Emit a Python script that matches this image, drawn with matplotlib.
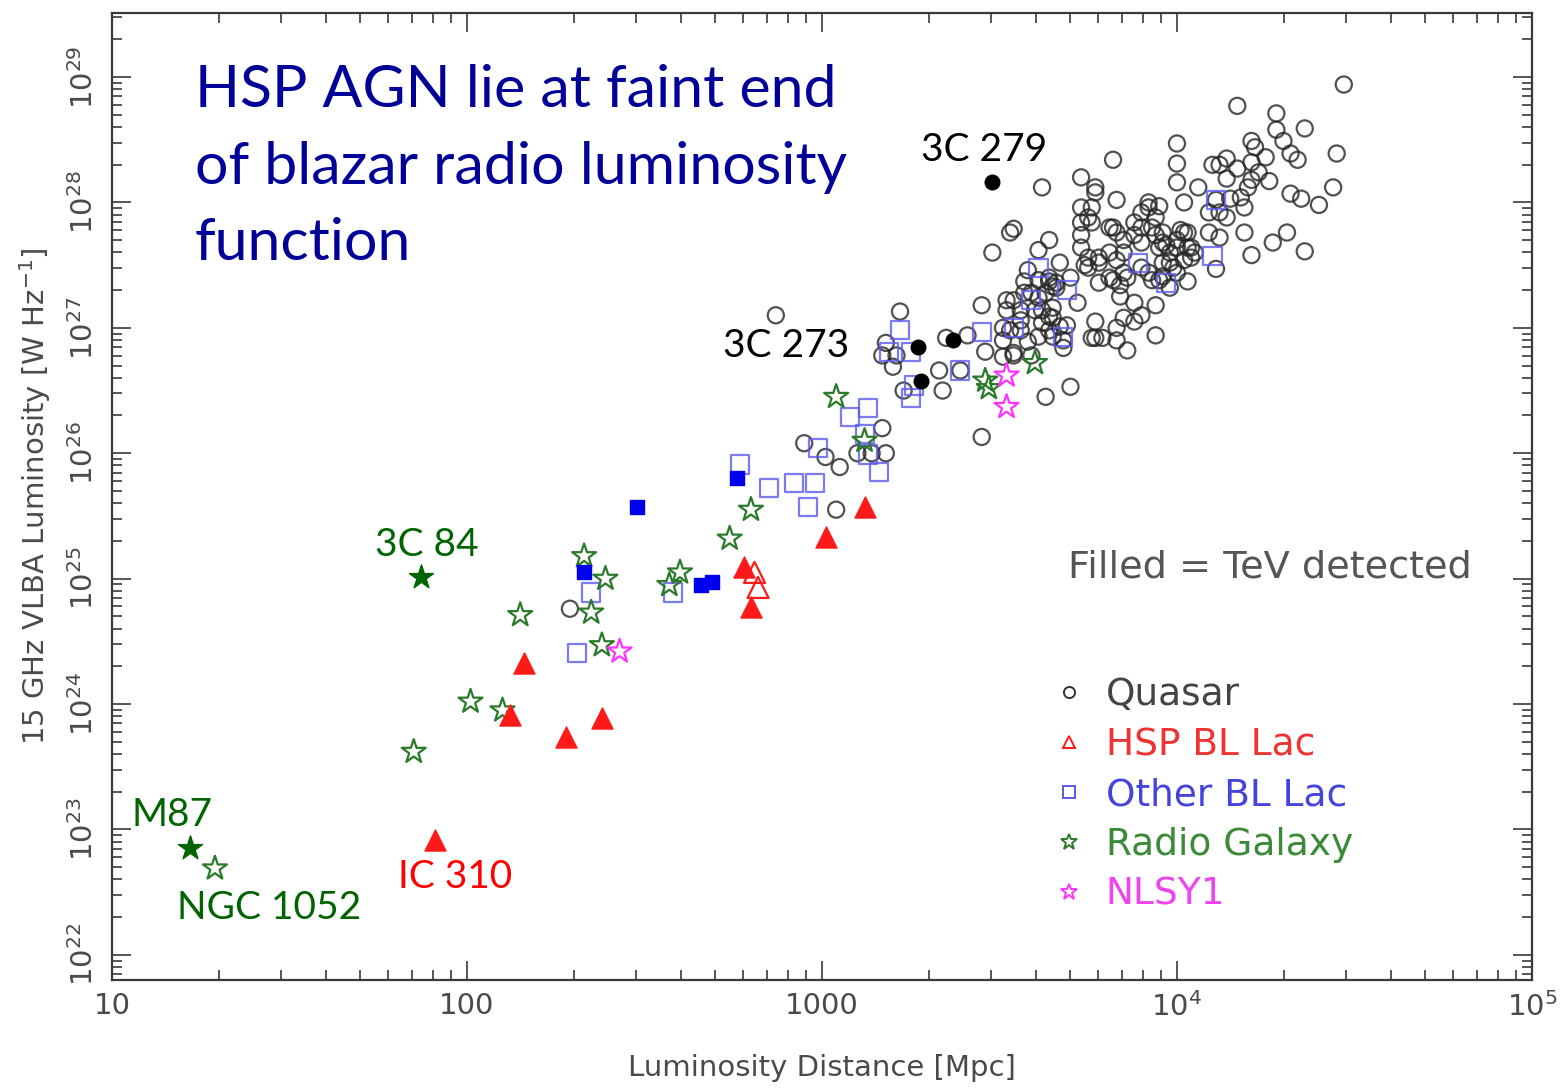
import matplotlib
matplotlib.use("Agg")
import matplotlib.pyplot as plt
import numpy as np
from matplotlib.lines import Line2D
from matplotlib.ticker import FixedLocator, FixedFormatter, LogLocator, NullFormatter

# ---- data: log10 luminosity distance [Mpc], log10 15 GHz luminosity [W/Hz] ----
quasar_logd = [4.47, 4.17, 4.28, 4.36, 4.28, 4.30, 4.21, 4.22, 4.00, 4.45, 4.32, 4.34, 3.82, 4.00,
               4.14, 4.10, 4.12, 4.25, 4.17, 4.21, 3.73, 4.00, 4.14, 4.26, 4.21, 4.20, 4.23, 3.62,
               3.77, 3.77, 4.06, 4.44, 4.32, 4.35, 4.40, 3.83, 4.02, 4.11, 4.15, 4.18, 4.19, 3.92,
               3.95, 3.76, 3.75, 4.09, 4.12, 4.14, 3.90, 3.94, 3.54, 3.73, 3.88, 3.82, 3.83, 3.93,
               3.94, 3.96, 4.01, 4.03, 4.09, 4.12, 4.19, 4.31, 4.27, 3.73, 3.73, 3.88, 3.90, 3.97,
               4.00, 4.04, 4.05, 3.81, 3.85, 4.21, 4.36, 4.11, 3.75, 3.74, 3.96, 3.99, 4.02, 3.58,
               3.70, 3.81, 3.86, 3.92, 3.93, 4.03, 3.65, 3.61, 3.64, 3.66, 3.72, 3.61, 3.52, 3.52,
               3.56, 3.56, 3.62, 3.65, 3.56, 3.51, 3.51, 3.64, 3.67, 3.69, 3.68, 3.58, 3.59, 3.54,
               3.76, 3.77, 3.79, 3.77, 3.83, 3.83, 3.86, 3.85, 3.88, 3.90, 3.84, 3.88, 3.94, 3.94,
               3.78, 3.78, 3.82, 3.84, 3.90, 3.95, 3.98, 3.53, 3.70, 3.63, 3.22, 3.18, 3.17, 3.21,
               3.20, 3.23, 3.33, 3.34, 3.35, 3.41, 3.45, 3.46, 3.51, 3.54, 3.54, 3.57, 3.53, 3.45,
               3.17, 3.10, 3.14, 3.18, 3.05, 2.87, 2.95, 3.01, 3.04, 2.29, 3.39, 3.48, 3.64, 3.66,
               3.63, 3.65, 3.60, 3.62, 3.61, 3.64, 3.65, 3.68, 3.59, 3.57,
               3.81, 3.85, 3.83, 3.85, 3.90, 3.92, 3.95, 3.98, 3.96, 4.00, 4.02, 4.03, 4.04, 3.98,
               4.00, 3.96, 3.73, 3.76, 3.78, 3.75, 3.61, 3.67, 3.64]
quasar_logL = [28.94, 28.77, 28.71, 28.59, 28.58, 28.49, 28.49, 28.44, 28.47, 28.39, 28.39, 28.34,
               28.34, 28.31, 28.35, 28.30, 28.30, 28.36, 28.27, 28.32, 28.20, 28.16, 28.19, 28.17,
               28.18, 28.12, 28.24, 28.12, 28.12, 28.08, 28.12, 28.12, 28.07, 28.03, 27.98, 28.02,
               28.00, 28.02, 28.03, 28.04, 27.96, 28.00, 27.97, 27.96, 27.88, 27.92, 27.92, 27.88,
               27.92, 27.88, 27.79, 27.84, 27.84, 27.80, 27.76, 27.80, 27.74, 27.68, 27.78, 27.76,
               27.76, 27.72, 27.76, 27.76, 27.68, 27.74, 27.64, 27.74, 27.68, 27.66, 27.64, 27.64,
               27.60, 27.60, 27.60, 27.58, 27.61, 27.47, 27.56, 27.50, 27.52, 27.48, 27.54, 27.46,
               27.40, 27.40, 27.40, 27.44, 27.38, 27.37, 27.33, 27.38, 27.37, 27.32, 27.20, 27.24,
               27.22, 27.14, 27.14, 27.06, 27.14, 27.08, 26.98, 27.00, 26.90, 26.98, 27.01, 27.02,
               26.84, 26.89, 26.78, 26.78, 26.92, 26.92, 26.92, 27.05, 26.90, 27.00, 26.82, 27.08,
               27.05, 27.10, 27.25, 27.20, 27.18, 26.94, 27.36, 27.52, 27.38, 27.34, 27.48, 27.38,
               27.32, 27.76, 26.53, 26.45, 27.13, 26.88, 26.78, 26.78, 26.69, 26.50, 26.66, 26.50,
               26.92, 26.94, 27.18, 26.81, 26.77, 26.80, 27.22, 27.28, 26.98, 26.13, 26.20, 26.00,
               26.00, 26.00, 25.89, 27.10, 26.08, 25.97, 25.55, 24.76, 26.66, 27.60, 27.40, 27.36,
               27.28, 27.16, 27.14, 27.04, 26.93, 27.09, 26.93, 26.90, 27.28, 27.37,
               27.80, 27.70, 27.54, 27.44, 27.80, 27.96, 27.64, 27.60, 27.76, 27.70, 27.76, 27.64,
               27.56, 27.52, 27.44, 27.41, 27.96, 27.84, 27.56, 27.48, 27.62, 27.52, 27.70]

quasar_tev_logd = [3.48, 3.27, 3.28, 3.37]          # 3C 279, 3C 273, ...
quasar_tev_logL = [28.16, 26.85, 26.58, 26.90]

hsp_logd = [2.81, 2.82]
hsp_logL = [25.05, 24.93]
hsp_tev_logd = [3.12, 3.01, 2.78, 2.80, 2.16, 2.12, 2.28, 2.38, 1.91]   # last: IC 310
hsp_tev_logL = [25.57, 25.33, 25.09, 24.77, 24.33, 23.91, 23.74, 23.89, 22.92]

bllac_logd = [4.11, 4.10, 3.89, 3.97, 3.61, 3.69, 3.59, 3.54, 3.68, 3.39, 3.45, 3.22, 3.19, 3.25,
              3.26, 3.25, 3.08, 3.13, 3.12, 3.13, 3.16, 2.99, 2.77, 2.85, 2.92, 2.98, 2.96, 2.35,
              2.58, 2.31]
bllac_logL = [28.02, 27.57, 27.52, 27.36, 27.48, 27.30, 27.22, 27.00, 26.93, 26.66, 26.97, 26.98,
              26.81, 26.81, 26.54, 26.44, 26.29, 26.36, 26.15, 25.99, 25.85, 26.04, 25.91, 25.72,
              25.76, 25.76, 25.57, 24.89, 24.89, 24.41]
bllac_tev_logd = [2.48, 2.76, 2.33, 2.66, 2.69]
bllac_tev_logL = [25.57, 25.80, 25.05, 24.95, 24.97]

rg_logd = [3.04, 3.12, 3.46, 3.47, 3.60, 2.80, 2.74, 2.33, 2.39, 2.35, 2.15, 2.38, 2.01, 2.10,
           1.85, 2.60, 2.57, 1.29]                   # last: NGC 1052
rg_logL = [26.45, 26.10, 26.58, 26.52, 26.72, 25.55, 25.32, 25.18, 25.00, 24.73, 24.71, 24.47,
           24.02, 23.95, 23.62, 25.05, 24.95, 22.69]
rg_tev_logd = [1.87, 1.22]                           # 3C 84, M87
rg_tev_logL = [25.01, 22.85]

nlsy1_logd = [3.52, 3.52, 2.43]
nlsy1_logL = [26.62, 26.37, 24.42]

# ---- named sources: label, position, text offset in px, colour ----
names = ["3C 279", "3C 273", "3C 84", "M87", "NGC 1052", "IC 310"]
name_logd = [3.48, 3.27, 1.87, 1.22, 1.29, 1.91]
name_logL = [28.16, 26.85, 25.01, 22.85, 22.69, 22.92]
name_dx = [-8, -132, 6, -18, 54, 20]
name_dy = [32, 1, 32, 33, -40, -37]
name_col = ["black", "black", "#006400", "#006400", "#006400", "#ff0000"]

C_Q = "#262626"
C_HSP = "#ff1a1a"
C_BL = "#5a5af0"
C_BLF = "#0000ee"
C_RG = "#2a7a2a"
C_RGF = "#006400"
C_NL = "#ff33ff"
AXC = "#3a3a3a"
TXT = "#4a4a4a"


def pw(a):
    return np.power(10.0, np.asarray(a))


fig = plt.figure(figsize=(15.64, 10.88), dpi=100)
ax = fig.add_axes([0.0716, 0.0993, 0.9079, 0.8887])
ax.set_xscale("log")
ax.set_yscale("log")
ax.set_xlim(10, 1e5)
ax.set_ylim(10 ** 21.8, 10 ** 29.51)

ax.scatter(pw(quasar_logd), pw(quasar_logL), s=135, marker="o", facecolors="none",
           edgecolors=C_Q, linewidths=1.6, alpha=0.8, zorder=3)
ax.scatter(pw(bllac_logd), pw(bllac_logL), s=170, marker="s", facecolors="none",
           edgecolors=C_BL, linewidths=1.6, alpha=0.8, zorder=4)
ax.scatter(pw(hsp_logd), pw(hsp_logL), s=230, marker="^", facecolors="none",
           edgecolors=C_HSP, linewidths=1.6, zorder=4)
ax.scatter(pw(rg_logd), pw(rg_logL), s=330, marker="*", facecolors="none",
           edgecolors=C_RG, linewidths=1.6, zorder=4)
ax.scatter(pw(nlsy1_logd), pw(nlsy1_logL), s=330, marker="*", facecolors="none",
           edgecolors=C_NL, linewidths=1.6, zorder=4)

ax.scatter(pw(quasar_tev_logd), pw(quasar_tev_logL), s=110, marker="o", color="black", zorder=5)
ax.scatter(pw(bllac_tev_logd), pw(bllac_tev_logL), s=110, marker="s", color=C_BLF, zorder=5)
ax.scatter(pw(hsp_tev_logd), pw(hsp_tev_logL), s=230, marker="^", color=C_HSP, zorder=5)
ax.scatter(pw(rg_tev_logd), pw(rg_tev_logL), s=330, marker="*", color=C_RGF, zorder=5)

# ---- axes styling ----
for sp in ax.spines.values():
    sp.set_linewidth(1.6)
    sp.set_color(AXC)
ax.tick_params(which="both", direction="in", top=True, right=True, color=AXC, width=1.2)
ax.tick_params(which="major", length=14, pad=9, labelsize=21, labelcolor=TXT)
ax.tick_params(which="minor", length=7)

ax.xaxis.set_major_locator(FixedLocator([10, 100, 1000, 1e4, 1e5]))
ax.xaxis.set_major_formatter(FixedFormatter(["10", "100", "1000", r"$10^4$", r"$10^5$"]))
ax.xaxis.set_minor_locator(LogLocator(base=10, subs=np.arange(2, 10), numticks=20))
ax.xaxis.set_minor_formatter(NullFormatter())

yt = [1e22, 1e23, 1e24, 1e25, 1e26, 1e27, 1e28, 1e29]
ax.yaxis.set_major_locator(FixedLocator(yt))
ax.yaxis.set_major_formatter(FixedFormatter([r"$10^{%d}$" % k for k in range(22, 30)]))
ax.yaxis.set_minor_locator(LogLocator(base=10, subs=np.arange(2, 10), numticks=20))
ax.yaxis.set_minor_formatter(NullFormatter())
for lab in ax.get_yticklabels():
    lab.set_rotation(90)
    lab.set_va("center")

ax.set_xlabel("Luminosity Distance [Mpc]", fontsize=21, color=TXT, labelpad=23)
ax.set_ylabel(r"15 GHz VLBA Luminosity [W Hz$^{-1}$]", fontsize=21, color=TXT, labelpad=12)

# ---- headline ----
fig.text(0.1247, 1 - 64 / 1088, "HSP AGN lie at faint end\nof blazar radio luminosity\nfunction",
         fontsize=42.5, family="Lato", color="#000099", va="top", ha="left", linespacing=1.55)

# ---- source names ----
for n, lx, ly, dx, dy, c in zip(names, name_logd, name_logL, name_dx, name_dy, name_col):
    ax.annotate(n, xy=(10 ** lx, 10 ** ly), xytext=(dx, dy), textcoords="offset pixels",
                ha="center", va="center", fontsize=28, family="Lato", color=c, zorder=6)

# ---- key ----
ax.text(0.673, 0.4267, "Filled = TeV detected", transform=ax.transAxes, fontsize=27.5,
        color="#555555", ha="left", va="center")

handles = [
    Line2D([], [], ls="none", marker="o", mfc="none", mec="#333333", ms=8, mew=1.4),
    Line2D([], [], ls="none", marker="^", mfc="none", mec=C_HSP, ms=9, mew=1.4),
    Line2D([], [], ls="none", marker="s", mfc="none", mec=C_BL, ms=8, mew=1.4),
    Line2D([], [], ls="none", marker="*", mfc="none", mec=C_RG, ms=12, mew=1.4),
    Line2D([], [], ls="none", marker="*", mfc="none", mec=C_NL, ms=12, mew=1.4),
]
labels = ["Quasar", "HSP BL Lac", "Other BL Lac", "Radio Galaxy", "NLSY1"]
ax.legend(handles, labels, loc="upper left", bbox_to_anchor=(0.6616, 0.313), frameon=False,
          fontsize=27, labelcolor=["#444444", "#ee3333", "#4444dd", "#3a8a3a", "#ee44ee"],
          handlelength=0.95, handletextpad=0.5, labelspacing=0.37, borderpad=0, borderaxespad=0)

fig.savefig("out.png", dpi=100)
